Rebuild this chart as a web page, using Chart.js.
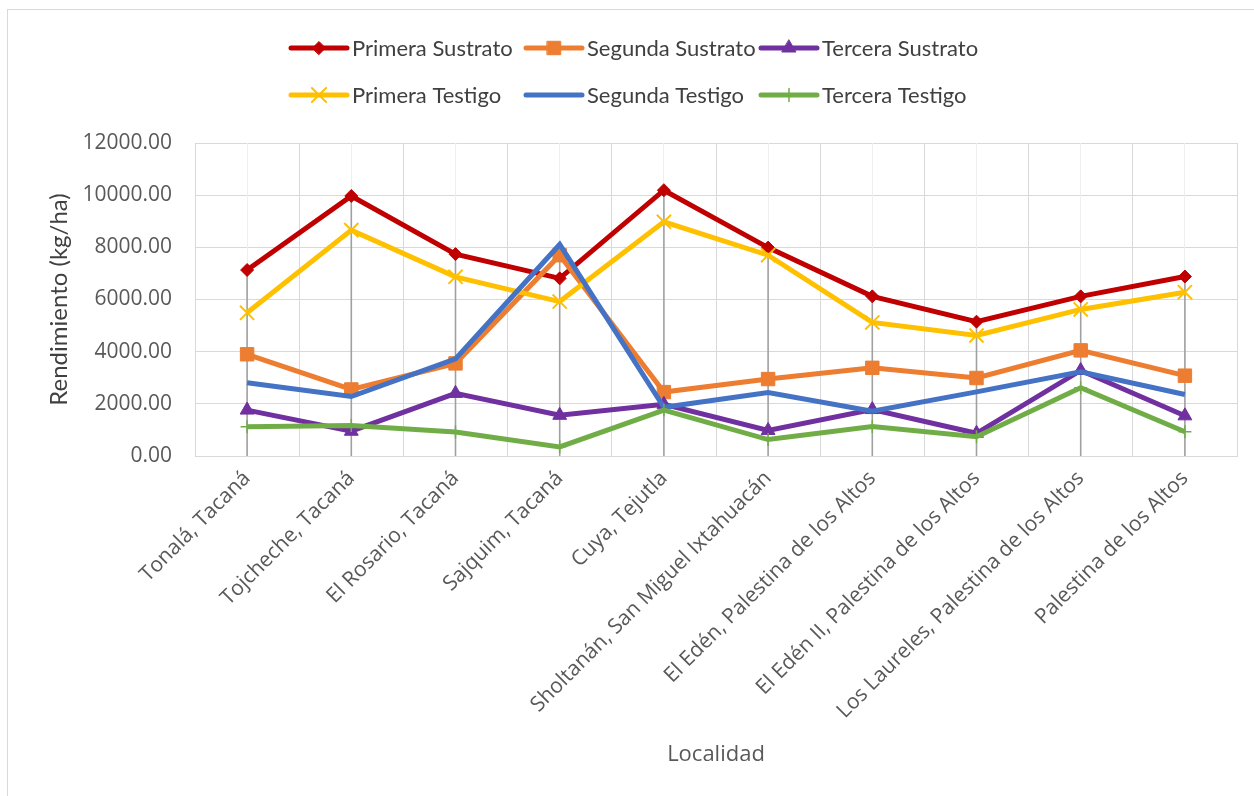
<!DOCTYPE html>
<html>
<head>
<meta charset="utf-8">
<script src="https://cdn.jsdelivr.net/npm/chart.js@4.4.1/dist/chart.umd.min.js"></script>
<style>
  html, body { margin: 0; padding: 0; background: #fff; overflow: hidden; }
  #wrap { position: relative; width: 1254px; height: 796px; }
  #frame { position: absolute; left: 7px; top: 9px; width: 1300px; height: 900px; border: 1px solid #d9d9d9; }
  #chart { position: absolute; left: 0; top: 0; }
</style>
</head>
<body>
<div id="wrap">
  <div id="frame"></div>
  <canvas id="chart" width="1254" height="796"></canvas>
</div>
<script>
const localidades = [
    'Tonalá, Tacaná', 'Tojcheche, Tacaná', 'El Rosario, Tacaná', 'Sajquim, Tacaná', 'Cuya, Tejutla',
    'Sholtanán, San Miguel Ixtahuacán', 'El Edén, Palestina de los Altos', 'El Edén II, Palestina de los Altos',
    'Los Laureles, Palestina de los Altos', 'Palestina de los Altos'
];
const primeraSustrato = [7130, 9970, 7740, 6810, 10190, 7990, 6120, 5150, 6120, 6880];
const segundaSustrato = [3900, 2550, 3550, 7700, 2450, 2950, 3380, 2990, 4050, 3080];
const terceraSustrato = [1760, 950, 2400, 1560, 1980, 980, 1780, 870, 3280, 1540];
const primeraTestigo = [5490, 8660, 6870, 5920, 8980, 7700, 5120, 4620, 5620, 6280];
const segundaTestigo = [2810, 2280, 3720, 8110, 1870, 2430, 1720, 2460, 3230, 2360];
const terceraTestigo = [1120, 1170, 920, 350, 1760, 630, 1130, 740, 2620, 930];
const yTicks = [0, 2000, 4000, 6000, 8000, 10000, 12000];

const series = [
    { label: 'Primera Sustrato', data: primeraSustrato, color: '#C00000', style: 'rectRot', radius: 6.5, bw: 1 },
    { label: 'Segunda Sustrato', data: segundaSustrato, color: '#ED7D31', style: 'rect', radius: 9.5, bw: 1 },
    { label: 'Tercera Sustrato', data: terceraSustrato, color: '#7030A0', style: 'triangle', radius: 8, bw: 1 },
    { label: 'Primera Testigo', data: primeraTestigo, color: '#FFC000', style: 'crossRot', radius: 10, bw: 2 },
    { label: 'Segunda Testigo', data: segundaTestigo, color: '#4472C4', style: false, radius: 0, bw: 0 },
    { label: 'Tercera Testigo', data: terceraTestigo, color: '#70AD47', style: 'cross', radius: 6.5, bw: 1.5 }
];

const tickFont = { family: '"Open Sans", sans-serif', size: 21 };
const grey = '#595959';

// gray drop lines from the highest point of each category down to the axis
const dropLines = {
    id: 'dropLines',
    beforeDatasetsDraw(chart) {
        const { ctx, scales } = chart;
        ctx.save();
        ctx.strokeStyle = '#a0a0a0';
        ctx.lineWidth = 1.6;
        localidades.forEach((_, i) => {
            const top = Math.max(...series.map(s => s.data[i]));
            const x = scales.x.getPixelForValue(i);
            ctx.beginPath();
            ctx.moveTo(x, scales.y.getPixelForValue(top));
            ctx.lineTo(x, scales.y.getPixelForValue(0));
            ctx.stroke();
        });
        ctx.restore();
    }
};

// two-row legend, three entries per row
const legendRows = {
    id: 'legendRows',
    afterDraw(chart) {
        const ctx = chart.ctx;
        const cols = [291, 526, 761];
        const rows = [48, 95];
        ctx.save();
        series.forEach((s, i) => {
            const x = cols[i % 3], y = rows[Math.floor(i / 3)];
            ctx.strokeStyle = s.color;
            ctx.fillStyle = s.color;
            ctx.lineWidth = 5;
            ctx.lineCap = 'round';
            ctx.beginPath();
            ctx.moveTo(x, y);
            ctx.lineTo(x + 56, y);
            ctx.stroke();
            if (s.style) {
                ctx.lineWidth = s.bw;
                Chart.helpers.drawPoint(ctx, { pointStyle: s.style, radius: s.radius, borderWidth: s.bw, rotation: 0 }, x + 28, y);
            }
            ctx.fillStyle = '#404040';
            ctx.font = '22px Lato, sans-serif';
            ctx.textBaseline = 'middle';
            ctx.textAlign = 'left';
            ctx.fillText(s.label, x + 61, y + 1);
        });
        ctx.restore();
    }
};

new Chart(document.getElementById('chart'), {
    type: 'line',
    data: {
        labels: localidades,
        datasets: series.map((s, i) => ({
            label: s.label,
            data: s.data,
            borderColor: s.color,
            backgroundColor: s.color,
            borderWidth: 5,
            pointStyle: s.style,
            pointRadius: s.radius,
            pointBorderWidth: s.bw,
            pointHoverRadius: s.radius,
            tension: 0,
            order: 6 - i
        }))
    },
    options: {
        responsive: false,
        animation: false,
        devicePixelRatio: 1,
        layout: { padding: { top: 143, right: 17, left: 0, bottom: 0 } },
        plugins: { legend: { display: false }, tooltip: { enabled: false } },
        scales: {
            y: {
                min: 0,
                max: 12000,
                afterBuildTicks: s => { s.ticks = yTicks.map(v => ({ value: v })); },
                afterFit: s => { s.width = 195; },
                ticks: { callback: v => Number(v).toFixed(2), font: tickFont, color: grey, padding: 23 },
                grid: { color: '#d9d9d9', drawTicks: false },
                border: { color: '#d9d9d9' },
                title: {
                    display: true,
                    text: 'Rendimiento (kg/ha)',
                    font: { family: 'Lato, sans-serif', size: 24 },
                    color: '#404040',
                    padding: { top: 45, bottom: 0 }
                }
            },
            x: {
                offset: true,
                afterFit: s => { s.height = 340; },
                ticks: { font: tickFont, color: grey, minRotation: 45, maxRotation: 45, padding: 10, autoSkip: false },
                grid: { offset: true, color: '#d9d9d9', drawTicks: false },
                border: { color: '#d9d9d9' },
                title: {
                    display: true,
                    text: 'Localidad',
                    font: { family: '"Open Sans", sans-serif', size: 22 },
                    color: grey,
                    padding: { top: 0, bottom: 28 }
                }
            },
            x2: {
                type: 'category',
                labels: localidades,
                position: 'bottom',
                offset: true,
                afterFit: s => { s.height = 0; },
                ticks: { display: false },
                grid: { offset: false, color: '#efefef', drawTicks: false },
                border: { display: false }
            }
        }
    },
    plugins: [dropLines, legendRows]
});
</script>
</body>
</html>
